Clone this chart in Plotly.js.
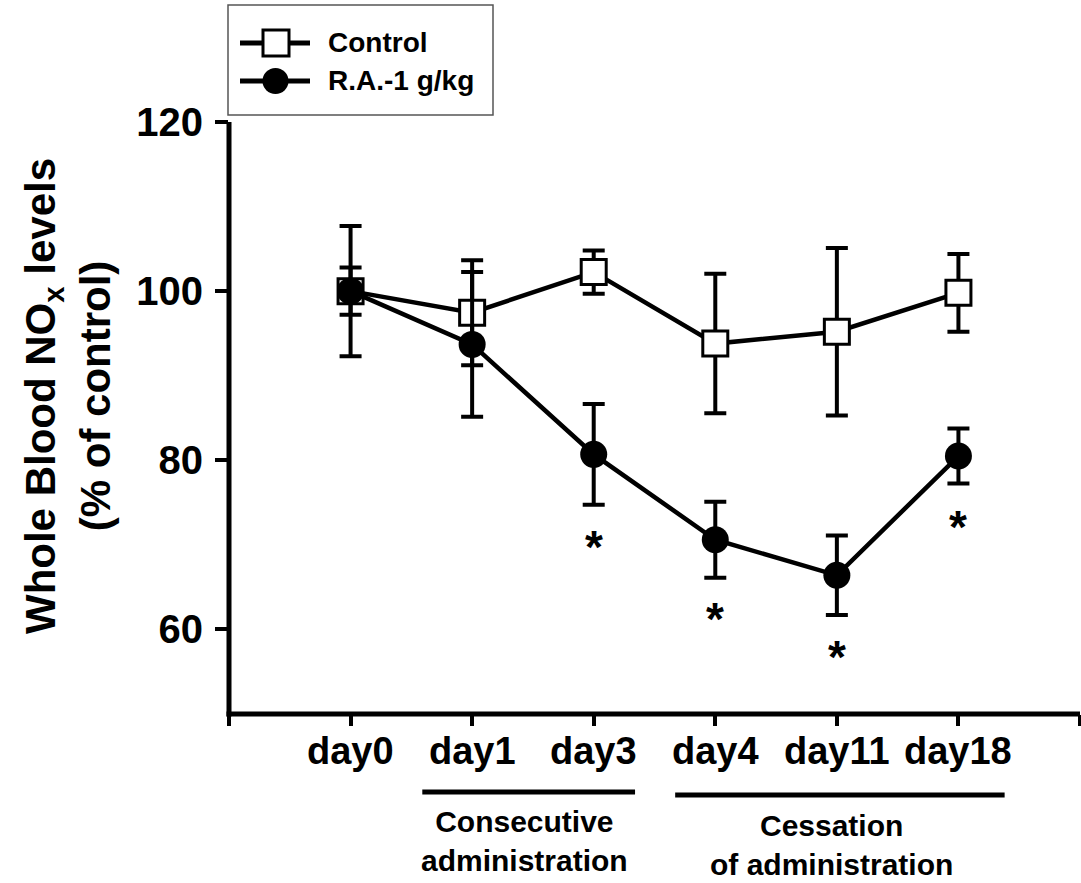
<!DOCTYPE html>
<html>
<head>
<meta charset="utf-8">
<script src="https://cdn.plot.ly/plotly-3.0.1.min.js"></script>
<style>html,body{margin:0;padding:0;background:#fff;}#chart{width:1081px;height:883px;}</style>
</head>
<body>
<div id="chart"></div>
<script>
// ---- data ----
const categories = ['day0', 'day1', 'day3', 'day4', 'day11', 'day18'];
const controlMean = [100, 97.45, 102.25, 93.8, 95.2, 99.8];
const controlErr = [2.8, 6.2, 2.55, 8.25, 9.9, 4.6];
const raMean = [100, 93.7, 80.7, 70.6, 66.4, 80.5];
const raErr = [7.7, 8.55, 5.95, 4.5, 4.7, 3.25];
const sigCategories = ['day3', 'day4', 'day11', 'day18'];
const sigY = [70.4, 62.0, 57.4, 72.8];
const seriesNames = ['Control', 'R.A.-1 g/kg'];
const yTicks = [60, 80, 100, 120];
const yTitle = 'Whole Blood NO<sub>x</sub> levels<br>(% of control)';
const groupLabels = ['Consecutive<br>administration', 'Cessation<br>of administration'];

// ---- layout helpers ----
const FONT = 'Liberation Sans, Arial, Helvetica, sans-serif';
const M = {l: 229, r: 1, t: 122, b: 169};
const W = 1081, H = 883;
const PW = W - M.l - M.r, PH = H - M.t - M.b;
const px = v => (v - M.l) / PW;          // page px -> paper x
const py = v => (H - M.b - v) / PH;      // page px -> paper y

const xPos = categories.map((c, i) => i + 1);
const catPos = c => categories.indexOf(c) + 1;

const traces = [
  {
    x: xPos, y: controlMean, name: seriesNames[0], type: 'scatter', mode: 'lines+markers',
    line: {color: '#000', width: 4.5},
    marker: {symbol: 'square', size: 25, color: '#fff', line: {color: '#000', width: 3}},
    error_y: {type: 'data', array: controlErr, visible: true, color: '#000', thickness: 4, width: 11},
    showlegend: false, hoverinfo: 'x+y'
  },
  {
    x: xPos, y: raMean, name: seriesNames[1], type: 'scatter', mode: 'lines+markers',
    line: {color: '#000', width: 4.5},
    marker: {symbol: 'circle', size: 27, color: '#000', line: {width: 0}},
    error_y: {type: 'data', array: raErr, visible: true, color: '#000', thickness: 4, width: 11},
    showlegend: false, hoverinfo: 'x+y'
  }
];

const annotations = [];
// x category labels (on the x scale)
categories.forEach(c => {
  annotations.push({x: catPos(c), y: py(751), xref: 'x', yref: 'paper', text: c, showarrow: false,
    xanchor: 'center', yanchor: 'middle',
    font: {family: FONT, size: 38, color: '#000', weight: 'bold'}});
});
// significance asterisks
sigCategories.forEach((c, i) => {
  annotations.push({x: catPos(c), y: sigY[i], xref: 'x', yref: 'y', text: '*', showarrow: false,
    xanchor: 'center', yanchor: 'middle', yshift: -6,
    font: {family: FONT, size: 46, color: '#000', weight: 'bold'}});
});
// y-axis title (two lines, rotated)
annotations.push({x: px(68), y: py(396), xref: 'paper', yref: 'paper', text: yTitle, showarrow: false,
  textangle: -90, xanchor: 'center', yanchor: 'middle', align: 'center',
  font: {family: FONT, size: 42, color: '#000', weight: 'bold'}});
// group labels under brackets
annotations.push({x: 2.43, y: py(841), xref: 'x', yref: 'paper', text: groupLabels[0], showarrow: false,
  xanchor: 'center', yanchor: 'middle', align: 'center',
  font: {family: FONT, size: 30, color: '#000', weight: 'bold'}});
annotations.push({x: 4.96, y: py(845), xref: 'x', yref: 'paper', text: groupLabels[1], showarrow: false,
  xanchor: 'center', yanchor: 'middle', align: 'center',
  font: {family: FONT, size: 30, color: '#000', weight: 'bold'}});
// legend texts
annotations.push({x: px(326), y: py(43), xref: 'paper', yref: 'paper', text: seriesNames[0], showarrow: false,
  xanchor: 'left', yanchor: 'middle', font: {family: FONT, size: 28, color: '#000', weight: 'bold'}});
annotations.push({x: px(326), y: py(81), xref: 'paper', yref: 'paper', text: seriesNames[1], showarrow: false,
  xanchor: 'left', yanchor: 'middle', font: {family: FONT, size: 28, color: '#000', weight: 'bold'}});

const shapes = [
  // axis lines, centred on the plot edges
  {type: 'line', xref: 'paper', yref: 'paper', x0: 0, x1: 0, y0: py(716.5), y1: 1, line: {color: '#000', width: 5}},
  {type: 'line', xref: 'paper', yref: 'paper', x0: px(226.5), x1: 1, y0: 0, y1: 0, line: {color: '#000', width: 5}},
  // brackets
  {type: 'line', xref: 'x', yref: 'paper', x0: 1.59, x1: 3.34, y0: py(792), y1: py(792), line: {color: '#000', width: 5}},
  {type: 'line', xref: 'x', yref: 'paper', x0: 3.67, x1: 6.38, y0: py(795), y1: py(795), line: {color: '#000', width: 5}},
  // legend box
  {type: 'rect', xref: 'paper', yref: 'paper', x0: px(228), x1: px(493), y0: py(5), y1: py(115),
    line: {color: '#555', width: 1.5}, fillcolor: 'rgba(0,0,0,0)'},
  // legend control entry
  {type: 'line', xref: 'paper', yref: 'paper', x0: px(240), x1: px(310), y0: py(43), y1: py(43), line: {color: '#000', width: 5}},
  {type: 'rect', xref: 'paper', yref: 'paper', x0: px(263), x1: px(289), y0: py(30), y1: py(56),
    line: {color: '#000', width: 3}, fillcolor: '#fff'},
  // legend RA entry
  {type: 'line', xref: 'paper', yref: 'paper', x0: px(240), x1: px(310), y0: py(81), y1: py(81), line: {color: '#000', width: 5}},
  {type: 'circle', xref: 'paper', yref: 'paper', x0: px(262.5), x1: px(288.5), y0: py(68), y1: py(94),
    line: {color: '#000', width: 0}, fillcolor: '#000'}
];

const layout = {
  width: W, height: H,
  margin: M,
  paper_bgcolor: '#fff', plot_bgcolor: '#fff',
  font: {family: FONT, color: '#000'},
  xaxis: {
    range: [0, 7], tickmode: 'linear', tick0: 0, dtick: 1,
    showticklabels: false,
    showline: false,
    ticks: 'outside', ticklen: 11, tickwidth: 4, tickcolor: '#000',
    showgrid: false, zeroline: false,
    fixedrange: true
  },
  yaxis: {
    range: [50, 120], tickmode: 'array', tickvals: yTicks, ticktext: yTicks.map(String),
    showline: false,
    ticks: 'outside', ticklen: 13, tickwidth: 4, tickcolor: '#000',
    ticklabelstandoff: 4,
    showgrid: false, zeroline: false,
    tickfont: {family: FONT, size: 40, color: '#000', weight: 'bold'},
    fixedrange: true
  },
  showlegend: false,
  annotations: annotations,
  shapes: shapes
};

Plotly.newPlot('chart', traces, layout, {displayModeBar: false, staticPlot: true});
</script>
</body>
</html>
